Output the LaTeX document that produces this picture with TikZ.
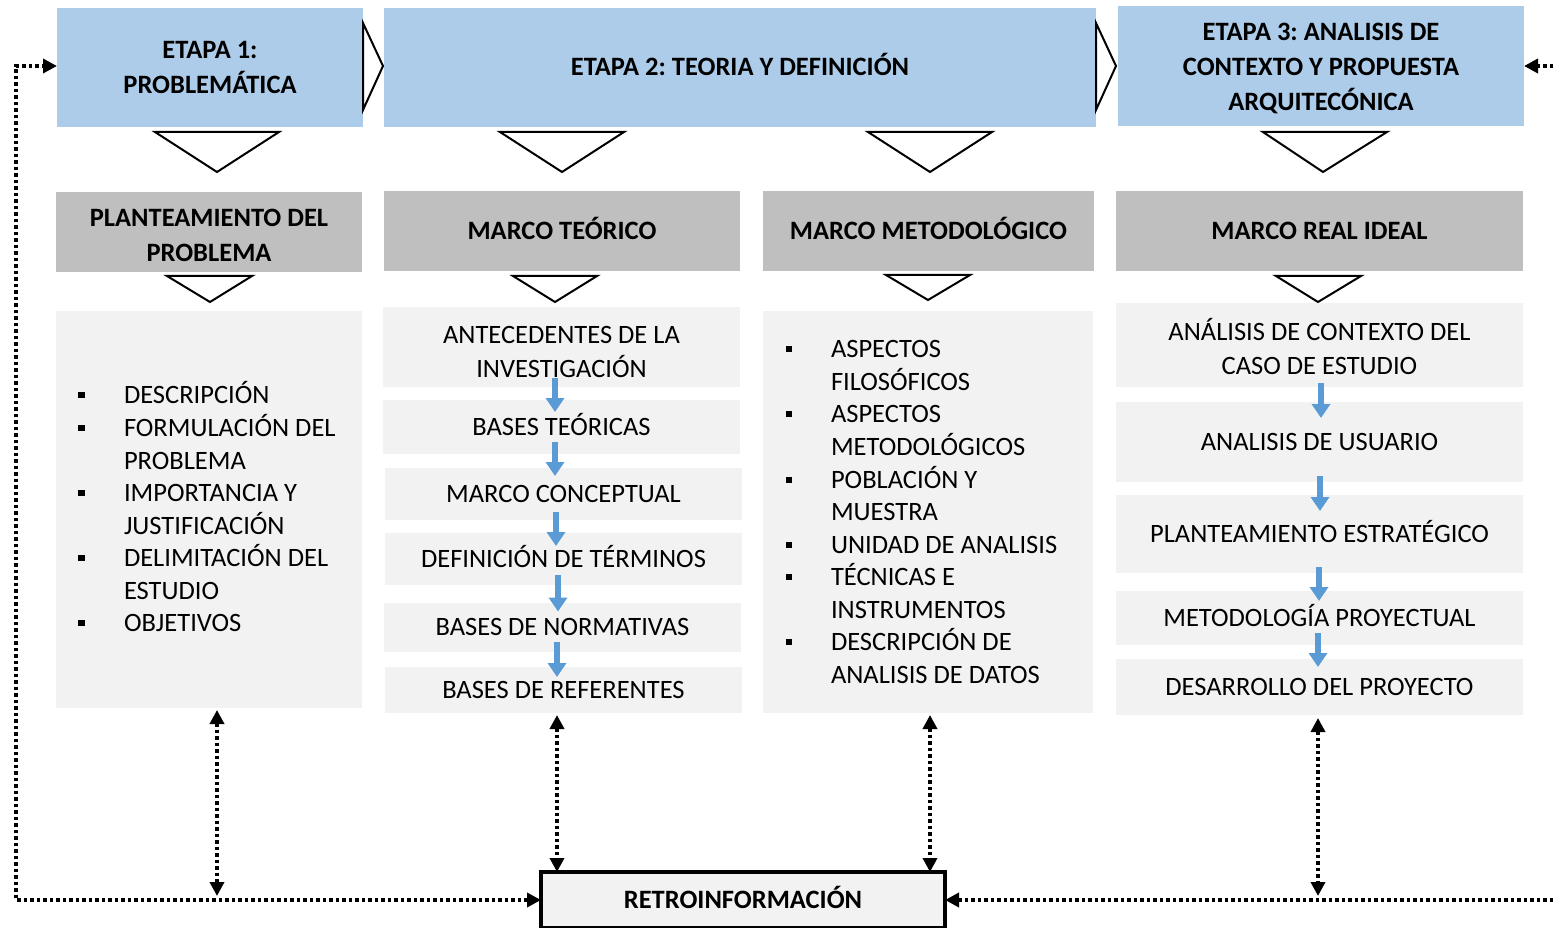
\documentclass[tikz,border=0pt]{standalone}
\usepackage{fontspec}
\setmainfont{Carlito}
\frenchspacing
\usetikzlibrary{arrows.meta,calc}
\definecolor{etapa}{RGB}{173,204,234}
\definecolor{marco}{RGB}{191,191,191}
\definecolor{cont}{RGB}{242,242,242}
\definecolor{barrow}{RGB}{91,155,213}
\tikzset{
  every node/.style={inner sep=0pt, outer sep=0pt},
  one/.style={text height=24pt, text depth=7pt},
  hdrtxt/.style={font=\fontsize{26.5}{35}\selectfont\bfseries, align=center},
  bodytxt/.style={font=\fontsize{26.5}{34}\selectfont, align=center},
  etapabox/.style={fill=etapa, hdrtxt},
  marcobox/.style={fill=marco, hdrtxt},
  contbox/.style={fill=cont, bodytxt},
  itemtxt/.style={anchor=west, font=\fontsize{26.5}{33}\selectfont, text height=24pt, text depth=7pt},
  bul/.style={fill=black, minimum size=6.5pt},
  tri/.style={draw=black, fill=white, line width=2pt, line join=miter},
  blarrow/.style={draw=barrow, line width=6pt, -{Triangle[length=14pt,width=18pt]}},
  fb/.style={line width=3.5pt, dash pattern=on 3.5pt off 3pt,
    {Triangle[length=14pt,width=14pt]}-{Triangle[length=14pt,width=14pt]}},
  retrobox/.style={draw=black, line width=4pt, fill=cont, hdrtxt, one}
}
\begin{document}
\begin{tikzpicture}[x=1pt,y=-1pt]
\useasboundingbox (0,0) rectangle (1556,928);
\clip (0,0) rectangle (1556,928);
\fill[white] (0,0) rectangle (1556,928);

% ETAPAS
\node[etapabox, minimum width=306pt, minimum height=119pt] (e1) at (210,67.5) {ETAPA 1:\\PROBLEMÁTICA};
\node[etapabox, one, minimum width=712pt, minimum height=119pt] (e2) at (740,67.5) {ETAPA 2: TEORIA Y DEFINICIÓN};
\node[etapabox, minimum width=406pt, minimum height=120pt] (e3) at (1321,66) {};
\node[hdrtxt] (e3t) at (1321,68.5) {ETAPA 3: ANALISIS DE\\CONTEXTO Y PROPUESTA\\ARQUITECÓNICA};

% chevrons between etapas
\draw[tri] (363,23) -- (383,66) -- (363,110) -- cycle;
\draw[tri] (1096,23) -- (1116,66) -- (1096,110) -- cycle;

% down triangles row 1
\draw[tri] (155,132) -- (279,132) -- (217,172) -- cycle;
\draw[tri] (500,132) -- (624,132) -- (562,172) -- cycle;
\draw[tri] (868,132) -- (992,132) -- (930,172) -- cycle;
\draw[tri] (1263,132) -- (1387,132) -- (1323,172) -- cycle;

% MARCOS
\node[marcobox, minimum width=306pt, minimum height=80pt] (m1) at (209,232) {};
\node[hdrtxt] (m1t) at (209,235.5) {PLANTEAMIENTO DEL\\PROBLEMA};
\node[marcobox, one, minimum width=356pt, minimum height=80pt] (m2) at (562,231.5) {MARCO TEÓRICO};
\node[marcobox, one, minimum width=331pt, minimum height=80pt] (m3) at (928.5,231.5) {MARCO METODOLÓGICO};
\node[marcobox, one, minimum width=407pt, minimum height=80pt] (m4) at (1319.5,231.5) {MARCO REAL IDEAL};

% down triangles row 2
\draw[tri] (167,276) -- (252,276) -- (210,302) -- cycle;
\draw[tri] (513,276) -- (597,276) -- (555,302) -- cycle;
\draw[tri] (886,275) -- (970,275) -- (928,300) -- cycle;
\draw[tri] (1276,276) -- (1361,276) -- (1318,302) -- cycle;

% Column 1 content
\node[fill=cont, minimum width=306pt, minimum height=397pt] (c1) at (209,509.5) {};
\node[bul] (b11) at (81.5,395) {};
\node[bul] (b12) at (81.5,428) {};
\node[bul] (b13) at (81.5,493) {};
\node[bul] (b14) at (81.5,558) {};
\node[bul] (b15) at (81.5,623) {};
\node[itemtxt] (l11) at (124,395) {DESCRIPCIÓN};
\node[itemtxt] (l12) at (124,428) {FORMULACIÓN DEL};
\node[itemtxt] (l13) at (124,461) {PROBLEMA};
\node[itemtxt] (l14) at (124,493) {IMPORTANCIA Y};
\node[itemtxt] (l15) at (124,526) {JUSTIFICACIÓN};
\node[itemtxt] (l16) at (124,558) {DELIMITACIÓN DEL};
\node[itemtxt] (l17) at (124,591) {ESTUDIO};
\node[itemtxt] (l18) at (124,623) {OBJETIVOS};

% Column 2 content
\node[contbox, minimum width=357pt, minimum height=80pt] (t1) at (561.5,347) {};
\node[bodytxt] (t1t) at (561.5,352) {ANTECEDENTES DE LA\\INVESTIGACIÓN};
\node[contbox, one, minimum width=357pt, minimum height=54pt] (t2) at (561.5,427) {BASES TEÓRICAS};
\node[contbox, one, minimum width=357pt, minimum height=52pt] (t3) at (563.5,494) {MARCO CONCEPTUAL};
\node[contbox, one, minimum width=357pt, minimum height=52pt] (t4) at (563.5,559) {DEFINICIÓN DE TÉRMINOS};
\node[contbox, one, minimum width=357pt, minimum height=49pt] (t5) at (562.5,627) {BASES DE NORMATIVAS};
\node[contbox, one, minimum width=357pt, minimum height=46pt] (t6) at (563.5,690) {BASES DE REFERENTES};
\draw[blarrow] ($(t1.south)+(-6.5,-9)$) -- ($(t2.north)+(-6.5,12)$);
\draw[blarrow] ($(t2.south)+(-6.5,-12)$) -- ($(t3.north)+(-8.5,8)$);
\draw[blarrow] ($(t3.south)+(-7.5,-8)$) -- ($(t4.north)+(-7.5,13)$);
\draw[blarrow] ($(t4.south)+(-5.5,-10)$) -- ($(t5.north)+(-4.5,9)$);
\draw[blarrow] ($(t5.south)+(-5.5,-10)$) -- ($(t6.north)+(-6.5,10)$);

% Column 3 content
\node[fill=cont, minimum width=330pt, minimum height=402pt] (c3) at (928,512) {};
\node[bul] (b31) at (789,349) {};
\node[bul] (b32) at (789,414) {};
\node[bul] (b33) at (789,480) {};
\node[bul] (b34) at (789,545) {};
\node[bul] (b35) at (789,577) {};
\node[bul] (b36) at (789,642) {};
\node[itemtxt] (l31) at (831,349) {ASPECTOS};
\node[itemtxt] (l32) at (831,382) {FILOSÓFICOS};
\node[itemtxt] (l33) at (831,414) {ASPECTOS};
\node[itemtxt] (l34) at (831,447) {METODOLÓGICOS};
\node[itemtxt] (l35) at (831,480) {POBLACIÓN Y};
\node[itemtxt] (l36) at (831,512) {MUESTRA};
\node[itemtxt] (l37) at (831,545) {UNIDAD DE ANALISIS};
\node[itemtxt] (l38) at (831,577) {TÉCNICAS E};
\node[itemtxt] (l39) at (831,610) {INSTRUMENTOS};
\node[itemtxt] (l3a) at (831,642) {DESCRIPCIÓN DE};
\node[itemtxt] (l3b) at (831,675) {ANALISIS DE DATOS};

% Column 4 content
\node[contbox, minimum width=407pt, minimum height=84pt] (r1) at (1319.5,345) {};
\node[bodytxt] (r1t) at (1319.5,347) {ANÁLISIS DE CONTEXTO DEL\\CASO DE ESTUDIO};
\node[contbox, one, minimum width=407pt, minimum height=80pt] (r2) at (1319.5,442) {ANALISIS DE USUARIO};
\node[contbox, one, minimum width=407pt, minimum height=78pt] (r3) at (1319.5,534) {PLANTEAMIENTO ESTRATÉGICO};
\node[contbox, one, minimum width=407pt, minimum height=54pt] (r4) at (1319.5,618) {METODOLOGÍA PROYECTUAL};
\node[contbox, one, minimum width=407pt, minimum height=56pt] (r5) at (1319.5,687) {DESARROLLO DEL PROYECTO};
\draw[blarrow] ($(r1.south)+(1.5,-4)$) -- ($(r2.north)+(1.5,16)$);
\draw[blarrow] ($(r2.south)+(0.5,-6)$) -- ($(r3.north)+(0.5,16)$);
\draw[blarrow] ($(r3.south)+(-0.5,-6)$) -- ($(r4.north)+(-0.5,10)$);
\draw[blarrow] ($(r4.south)+(-1.5,-12)$) -- ($(r5.north)+(-1.5,8)$);

% Retroinformacion
\node[retrobox, minimum width=404pt, minimum height=56pt] (retro) at (743,900) {RETROINFORMACIÓN};

% feedback connectors
\coordinate (v1) at (217,896);
\coordinate (v2) at (557,0);
\coordinate (v3) at (930,0);
\coordinate (v4) at (1318,896);
\draw[fb] (retro.west) -| (16,66) -- (e1.west |- 0,66);
\draw[fb] (retro.east) -| (1570,66) -- (e3.east |- 0,66);
\draw[fb, shorten <=2pt] (c1.south -| v1) -- (v1);
\draw[fb, shorten <=2pt] (t6.south -| v2) -- (retro.north -| v2);
\draw[fb, shorten <=2pt] (c3.south -| v3) -- (retro.north -| v3);
\draw[fb, shorten <=3pt] (r5.south -| v4) -- (v4);
\end{tikzpicture}
\end{document}
